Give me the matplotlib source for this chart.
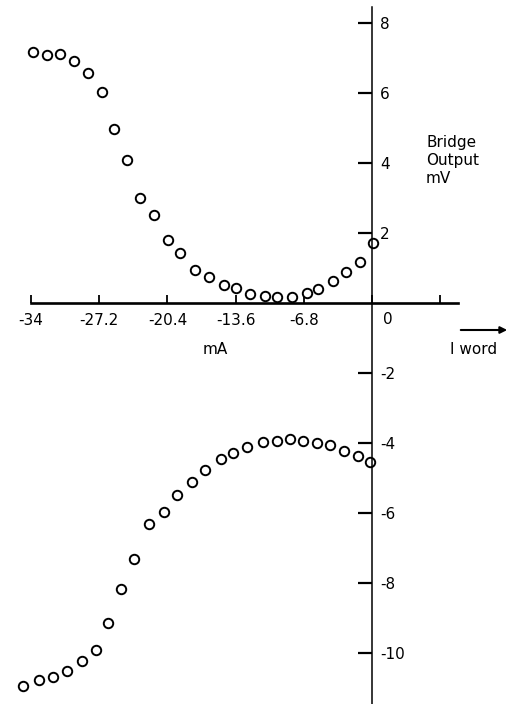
import matplotlib
matplotlib.use("Agg")
import matplotlib.pyplot as plt

# Word current (mA) and bridge output (mV) for the two branches
upper_current = [-33.8, -32.4, -31.1, -29.7, -28.3, -26.9, -25.7, -24.4, -23.1, -21.7,
                 -20.3, -19.1, -17.6, -16.3, -14.8, -13.6, -12.2, -10.7, -9.5, -8.0,
                 -6.5, -5.4, -3.9, -2.6, -1.2, 0.1]
upper_output = [7.17, 7.09, 7.11, 6.91, 6.57, 6.03, 4.97, 4.09, 3.00, 2.51,
                1.80, 1.43, 0.94, 0.74, 0.51, 0.43, 0.26, 0.20, 0.17, 0.17,
                0.29, 0.40, 0.63, 0.89, 1.17, 1.71]

lower_current = [-34.8, -33.2, -31.8, -30.4, -28.9, -27.5, -26.3, -25.0, -23.7, -22.2,
                 -20.7, -19.4, -17.9, -16.6, -15.1, -13.9, -12.5, -10.9, -9.5, -8.2,
                 -6.9, -5.5, -4.2, -2.8, -1.4, -0.2]
lower_output = [-10.94, -10.77, -10.69, -10.51, -10.23, -9.91, -9.14, -8.17, -7.31, -6.31,
                -5.97, -5.49, -5.11, -4.77, -4.46, -4.29, -4.11, -3.97, -3.94, -3.89,
                -3.94, -4.00, -4.06, -4.23, -4.37, -4.54]

x_ticks = [-34, -27.2, -20.4, -13.6, -6.8, 0, 6.8]
x_tick_labels = ["-34", "-27.2", "-20.4", "-13.6", "-6.8", "", ""]
y_ticks = [-10, -8, -6, -4, -2, 2, 4, 6, 8]
y_tick_labels = ["-10", "-8", "-6", "-4", "-2", "2", "4", "6", "8"]

plt.rcParams["font.family"] = ["DejaVu Sans"]
FS = 11

fig = plt.figure(figsize=(5.15, 7.04), dpi=100)
ax = fig.add_axes([0, 0, 1, 1])
ax.set_xlim(-37.09, 14.26)
ax.set_ylim(-11.457, 8.657)

marker_style = dict(linestyle="none", marker="o", markersize=6.8,
                    markerfacecolor="white", markeredgecolor="black",
                    markeredgewidth=1.4)
ax.plot(upper_current, upper_output, **marker_style)
ax.plot(lower_current, lower_output, **marker_style)

# Axes crossing at the origin
ax.spines["top"].set_visible(False)
ax.spines["left"].set_visible(False)
ax.spines["bottom"].set_position(("data", 0))
ax.spines["bottom"].set_bounds(-34, 8.6)
ax.spines["bottom"].set_linewidth(1.9)
ax.spines["right"].set_position(("data", 0))
ax.spines["right"].set_bounds(-11.457, 8.46)
ax.spines["right"].set_linewidth(1.1)

ax.xaxis.set_ticks_position("bottom")
ax.set_xticks(x_ticks)
ax.set_xticklabels(x_tick_labels)
ax.tick_params(axis="x", direction="in", length=6, width=1.3, pad=7, labelsize=FS)

ax.yaxis.set_ticks_position("right")
ax.set_yticks(y_ticks)
ax.set_yticklabels(y_tick_labels)
ax.tick_params(axis="y", direction="in", length=10, width=1.6, pad=6, labelsize=FS)

ax.annotate("0", xy=(0, 0), xytext=(16, -17), textcoords="offset pixels",
            ha="center", va="center", fontsize=FS)

fig.text(426 / 515, 1 - 135 / 704, "Bridge\nOutput\nmV", ha="left", va="top",
         fontsize=FS, linespacing=1.25)
fig.text(215 / 515, 1 - 350 / 704, "mA", ha="center", va="center", fontsize=FS)
fig.text(450 / 515, 1 - 350 / 704, "I word", ha="left", va="center", fontsize=FS)
fig.add_artist(matplotlib.patches.FancyArrowPatch(
    (458 / 515, 1 - 330 / 704), (510 / 515, 1 - 330 / 704),
    transform=fig.transFigure, arrowstyle="-|>", mutation_scale=10,
    linewidth=1.5, color="black"))

fig.savefig("out.png", dpi=100, facecolor="white")
